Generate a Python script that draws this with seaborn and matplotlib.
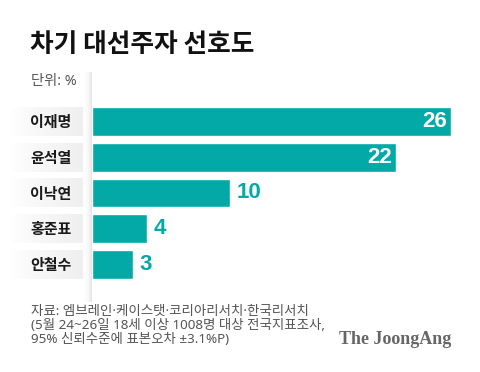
import numpy as np
import pandas as pd
import matplotlib
matplotlib.use("Agg")
import matplotlib.pyplot as plt
import seaborn as sns

names = ["이재명", "윤석열", "이낙연", "홍준표", "안철수"]
values = [26, 22, 10, 4, 3]
title = "차기 대선주자 선호도"
unit = "단위: %"
source = ["자료: 엠브레인·케이스탯·코리아리서치·한국리서치",
          "(5월 24~26일 18세 이상 1008명 대상 전국지표조사,",
          "95% 신뢰수준에 표본오차 ±3.1%P)"]

sns.set_style("white")
plt.rcParams["font.family"] = ["Noto Sans CJK KR", "DejaVu Sans"]

teal = "#02a9a6"
W, H = 480, 372
fig = plt.figure(figsize=(4.8, 3.72), dpi=100)

# background layer in pixel coords for decorations
bg = fig.add_axes([0, 0, 1, 1])
bg.set_xlim(0, W)
bg.set_ylim(H, 0)
bg.axis("off")

# vertical shadow left of bar baseline
shade = np.linspace(0, 1, 50).reshape(1, -1) ** 2
bg.imshow(shade, extent=[83, 92, 302, 72], cmap="Greys", vmin=0, vmax=5,
          aspect="auto", zorder=1)

df = pd.DataFrame({"name": names, "value": values})

left, right = 92 / W, 451 / W
pitch = 35.75
top_px = 121.5 - pitch / 2
bot_px = 264.5 + pitch / 2
ax = fig.add_axes([left, 1 - bot_px / H, right - left, (bot_px - top_px) / H])
ax.patch.set_alpha(0)

# label bands with gradient, fading to white on the left
band = np.linspace(0, 1, 80).reshape(1, -1) ** 0.8
for i in range(len(names)):
    cy = top_px + pitch / 2 + i * pitch
    bg.imshow(band, extent=[10, 92, cy + 14.5, cy - 14.5], cmap="Greys",
              vmin=0, vmax=7, aspect="auto", zorder=0)
    bg.text(30, cy + 0.5, names[i], ha="left", va="center", fontsize=10.8,
            color="#1a1a1a", fontweight="bold", zorder=3)

sns.barplot(data=df, x="value", y="name", color=teal, saturation=1,
            width=0.81, ax=ax)
ax.set_xlim(0, 26)
ax.set_ylim(len(names) - 0.5, -0.5)
ax.axis("off")

for i, v in enumerate(values):
    if v >= 15:
        ax.text(v - 0.3, i, str(v), ha="right", va="center", fontsize=16,
                fontweight="bold", color="white", family="Liberation Sans")
    else:
        ax.text(v + 0.45, i, str(v), ha="left", va="center", fontsize=16,
                fontweight="bold", color=teal, family="Liberation Sans")

bg.text(30, 45, title, fontsize=18.5, fontweight="heavy", color="#111111",
        ha="left", va="center")
bg.text(31, 81, unit, fontsize=10.3, color="#555555", ha="left", va="center",
        family=["Noto Sans", "Noto Sans CJK KR"])
for k, line in enumerate(source):
    bg.text(31, 311 + k * 14.3, line, fontsize=9.7, color="#555555",
            ha="left", va="center", family=["Noto Sans", "Noto Sans CJK KR"])
bg.text(451, 340, "The JoongAng", fontsize=13, fontweight="bold",
        family="Liberation Serif", color="#666666", ha="right", va="center")

fig.savefig("out.png", dpi=100)
